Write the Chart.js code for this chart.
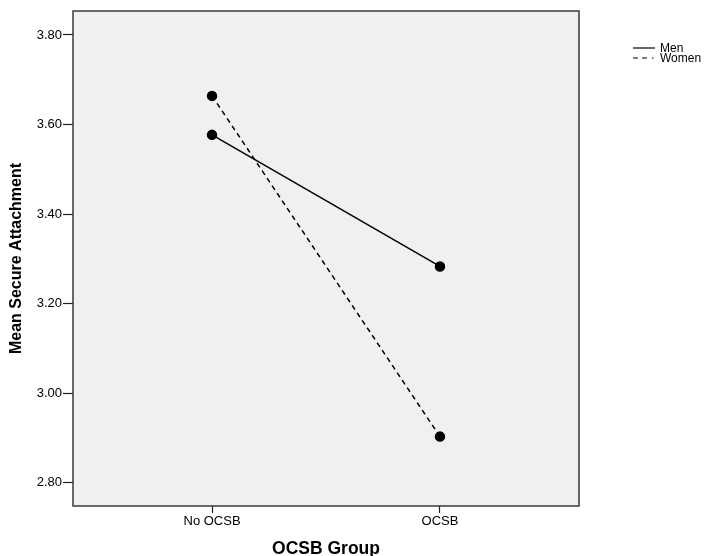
<!DOCTYPE html>
<html>
<head>
<meta charset="utf-8">
<script src="https://cdn.jsdelivr.net/npm/chart.js@4"></script>
<style>
  html, body { margin: 0; padding: 0; background: #fff; }
  #wrap { width: 708px; height: 556px; }
</style>
</head>
<body>
<div id="wrap"><canvas id="chartAttachment"></canvas></div>
<script>
const groups = ["No OCSB", "OCSB"];
const menMeans = [3.577, 3.283];
const womenMeans = [3.664, 2.903];
const yTicks = [2.8, 3.0, 3.2, 3.4, 3.6, 3.8];

const ctx = document.getElementById("chartAttachment");
const fam = "'Liberation Sans', Arial, sans-serif";

// grey plot background and dark frame, like the SPSS output
const plotFrame = {
  id: "plotFrame",
  beforeDatasetsDraw(chart) {
    const { ctx, chartArea: a } = chart;
    ctx.save();
    ctx.fillStyle = "#f0f0f0";
    ctx.fillRect(a.left, a.top, a.right - a.left, a.bottom - a.top);
    ctx.restore();
  },
  afterDatasetsDraw(chart) {
    const { ctx, chartArea: a } = chart;
    ctx.save();
    ctx.strokeStyle = "#3a3a3a";
    ctx.lineWidth = 1.5;
    ctx.strokeRect(a.left, a.top, a.right - a.left, a.bottom - a.top);
    ctx.restore();
  },
};

// small legend at the top right, outside the plot
const legendDash = [[], [5, 4, 5, 5, 1.5, 20]];
const sideLegend = {
  id: "sideLegend",
  afterDraw(chart) {
    const c = chart.ctx;
    c.save();
    c.font = "12px " + fam;
    c.textBaseline = "middle";
    chart.data.datasets.forEach((ds, i) => {
      const y = 48 + i * 10;
      c.strokeStyle = "#000";
      c.lineWidth = 1.2;
      c.setLineDash(legendDash[i]);
      c.beginPath();
      c.moveTo(633, y);
      c.lineTo(655, y);
      c.stroke();
      c.setLineDash([]);
      c.fillStyle = "#000";
      c.fillText(ds.label, 660, y + 1);
    });
    c.restore();
  },
};

new Chart(ctx, {
  type: "line",
  data: {
    datasets: [
      {
        label: "Men",
        data: menMeans.map((v, i) => ({ x: i, y: v })),
        borderColor: "#000",
        backgroundColor: "#000",
        borderWidth: 1.5,
        pointRadius: 4.5,
        pointHoverRadius: 4.5,
      },
      {
        label: "Women",
        data: womenMeans.map((v, i) => ({ x: i, y: v })),
        borderColor: "#000",
        backgroundColor: "#000",
        borderWidth: 1.5,
        borderDash: [5, 4],
        pointRadius: 4.5,
        pointHoverRadius: 4.5,
      },
    ],
  },
  options: {
    responsive: true,
    maintainAspectRatio: false,
    animation: false,
    layout: { padding: { top: 11, right: 129, left: 0, bottom: 0 } },
    plugins: {
      legend: { display: false },
      tooltip: { enabled: false },
    },
    scales: {
      x: {
        type: "linear",
        min: -0.61,
        max: 1.61,
        afterBuildTicks(scale) {
          scale.ticks = groups.map((g, i) => ({ value: i }));
        },
        afterFit(scale) {
          scale.height = 50;
        },
        ticks: {
          color: "#000",
          padding: 1,
          font: { family: fam, size: 13 },
          callback: (v) => groups[v],
        },
        grid: {
          drawOnChartArea: false,
          color: "#222",
          tickLength: 7,
          tickWidth: 1.2,
        },
        border: { display: false },
        title: {
          display: true,
          text: "OCSB Group",
          color: "#000",
          padding: { top: 0, bottom: -2 },
          font: { family: fam, size: 17.5, weight: "bold", lineHeight: 1 },
        },
      },
      y: {
        type: "linear",
        min: 2.748,
        max: 3.8536,
        afterBuildTicks(scale) {
          scale.ticks = yTicks.map((v) => ({ value: v }));
        },
        afterFit(scale) {
          scale.width = 73;
        },
        ticks: {
          color: "#000",
          padding: 1,
          font: { family: fam, size: 13 },
          callback: (v) => Number(v).toFixed(2),
        },
        grid: {
          drawOnChartArea: false,
          color: "#222",
          tickLength: 10,
          tickWidth: 1.2,
        },
        border: { display: false },
        title: {
          display: true,
          text: "Mean Secure Attachment",
          color: "#000",
          padding: { top: 7, bottom: 0 },
          font: { family: fam, size: 16, weight: "bold" },
        },
      },
    },
  },
  plugins: [plotFrame, sideLegend],
});
</script>
</body>
</html>
